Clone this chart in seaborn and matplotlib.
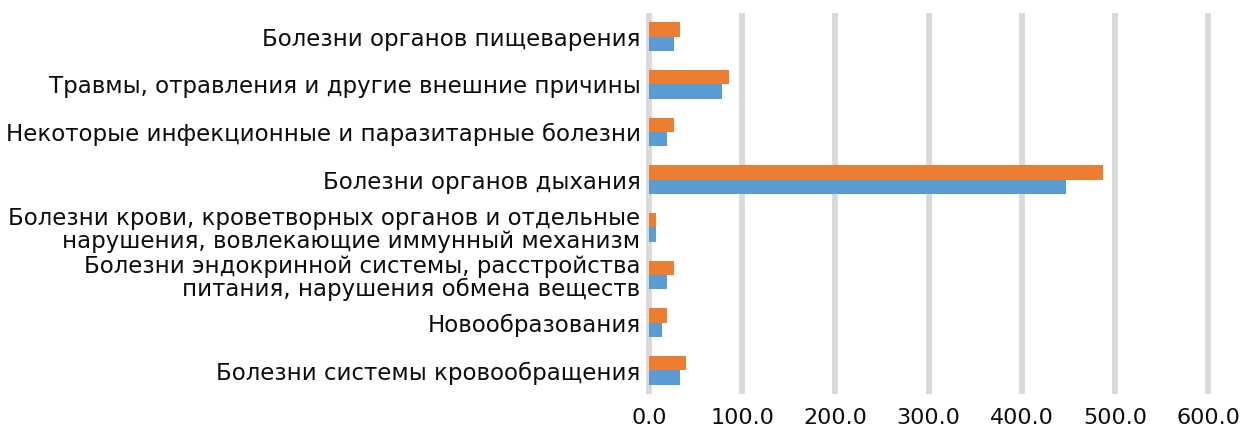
import matplotlib
matplotlib.use("Agg")
import matplotlib.pyplot as plt
import seaborn as sns
import pandas as pd

# Causes of illness, listed top to bottom
categories = [
    "Болезни органов пищеварения",
    "Травмы, отравления и другие внешние причины",
    "Некоторые инфекционные и паразитарные болезни",
    "Болезни органов дыхания",
    "Болезни крови, кроветворных органов и отдельные\nнарушения, вовлекающие иммунный механизм",
    "Болезни эндокринной системы, расстройства\nпитания, нарушения обмена веществ",
    "Новообразования",
    "Болезни системы кровообращения",
]
series_orange = [33, 86, 27, 487, 7.5, 27, 20, 40]
series_blue = [27, 79, 20, 447, 7.5, 20, 14, 33]
series_names = ["Ряд 2", "Ряд 1"]
x_ticks = [0, 100, 200, 300, 400, 500, 600]

df = pd.DataFrame({
    "category": categories * 2,
    "value": series_orange + series_blue,
    "series": [series_names[0]] * len(categories) + [series_names[1]] * len(categories),
})

sns.set_theme(style="white")
plt.rcParams["font.family"] = ["DejaVu Sans"]

fig = plt.figure(figsize=(12.43, 4.30), dpi=100)
ax = fig.add_axes([0.522, 0.083, 0.450, 0.887])

sns.barplot(
    data=df, y="category", x="value", hue="series",
    hue_order=series_names, order=categories,
    palette=["#ED7D31", "#5B9BD5"], orient="h",
    width=0.6, saturation=1, legend=False, ax=ax,
)
for p in ax.patches:
    p.set_edgecolor("none")

ax.set_xlim(0, 600)
ax.set_xticks(x_ticks)
ax.set_xticklabels([f"{v:.1f}" for v in x_ticks])
ax.set_xlabel("")
ax.set_ylabel("")
for v in x_ticks:
    ax.axvline(v, color="#D9D9D9", lw=4.2, zorder=0, clip_on=False,
               solid_capstyle="butt")
ax.set_axisbelow(True)
for s in ax.spines.values():
    s.set_visible(False)
ax.tick_params(axis="x", length=0, pad=10, labelsize=16, labelcolor="#0d0d0d")
ax.tick_params(axis="y", length=0, pad=6, labelsize=16.5, labelcolor="#0d0d0d")
for lbl in ax.get_yticklabels():
    lbl.set_linespacing(1.0)

fig.savefig("out.png", dpi=100)
